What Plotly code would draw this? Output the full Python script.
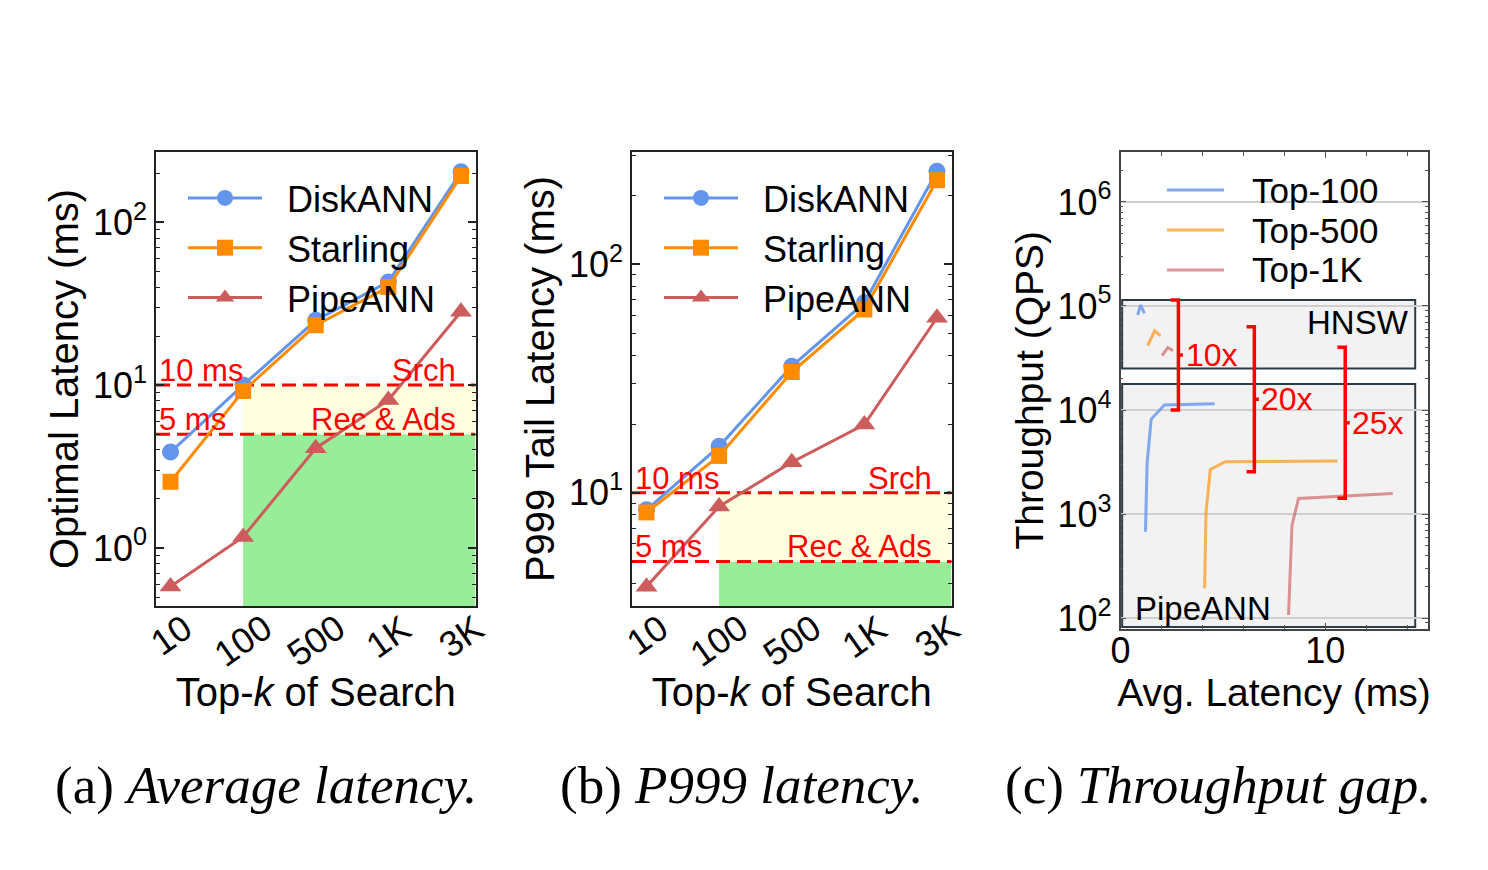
import math
import plotly.graph_objects as go

# ---------------- data ----------------
k_labels = ["10", "100", "500", "1K", "3K"]

avg_diskann = [3.88, 10.0, 25.0, 43.0, 204]
avg_starling = [2.55, 9.2, 23.3, 40.0, 192]
avg_pipeann = [0.58, 1.17, 4.1, 8.1, 28.2]

p999_diskann = [8.42, 15.97, 35.8, 67.9, 256]
p999_starling = [8.2, 14.5, 33.8, 63.5, 234]
p999_pipeann = [3.88, 8.71, 13.6, 19.9, 58.4]

# throughput panel: PipeANN curves
pipe100_lat = [1.22, 1.30, 1.50, 2.15, 4.6]
pipe100_qps = [676, 3090, 8190, 11160, 11500]
pipe500_lat = [4.11, 4.18, 4.39, 5.12, 10.6]
pipe500_qps = [193, 1052, 2690, 3185, 3235]
pipe1k_lat = [8.21, 8.38, 8.70, 13.3]
pipe1k_qps = [107, 783, 1413, 1580]
# HNSW curves
hnsw100_lat = [0.84, 0.98, 1.17]
hnsw100_qps = [81900, 102000, 85000]
hnsw500_lat = [1.33, 1.67, 1.95]
hnsw500_qps = [41500, 57800, 51500]
hnsw1k_lat = [2.03, 2.31, 2.57]
hnsw1k_qps = [33300, 39700, 37200]

gap_labels = ["10x", "20x", "25x"]
gap_x = [2.83, 6.54, 10.98]
gap_top = [114000, 63000, 40100]
gap_bottom = [10000, 2550, 1416]

slo_values = [10, 5]
slo_left = ["10 ms", "5 ms"]
slo_right = ["Srch", "Rec & Ads"]

# ---------------- style ----------------
W, H = 1488, 870
FONT = "Liberation Sans, Arial, sans-serif"
C_DISK = "#6495ED"
C_STAR = "#FF8C00"
C_PIPE = "#CD5C5C"
C_T100 = "rgba(100,149,237,0.8)"
C_T500 = "rgba(255,140,0,0.65)"
C_T1K = "rgba(205,92,92,0.65)"
RED = "#FF0000"
FRAME = "#222222"
NB = "\u00a0\u00a0"

def px_x(p):
    return p / W

def px_y(p):
    return 1 - p / H

fig = go.Figure()
xpos = list(range(len(k_labels)))

# ---- panel a / b traces ----
for (dk, st, pp, xa, ya, lg) in [
    (avg_diskann, avg_starling, avg_pipeann, "x", "y", "legend"),
    (p999_diskann, p999_starling, p999_pipeann, "x2", "y2", "legend2"),
]:
    fig.add_trace(go.Scatter(x=xpos, y=dk, name=NB + "DiskANN", mode="lines+markers",
                             line=dict(color=C_DISK, width=3),
                             marker=dict(symbol="circle", size=17, color=C_DISK),
                             xaxis=xa, yaxis=ya, legend=lg))
    fig.add_trace(go.Scatter(x=xpos, y=st, name=NB + "Starling", mode="lines+markers",
                             line=dict(color=C_STAR, width=3),
                             marker=dict(symbol="square", size=16, color=C_STAR),
                             xaxis=xa, yaxis=ya, legend=lg))
    fig.add_trace(go.Scatter(x=xpos, y=pp, name=NB + "PipeANN", mode="lines+markers",
                             line=dict(color=C_PIPE, width=3),
                             marker=dict(symbol="triangle-up", size=19, color=C_PIPE),
                             xaxis=xa, yaxis=ya, legend=lg))

# ---- panel c traces ----
series_c = [
    ("Top-100", C_T100, pipe100_lat, pipe100_qps, hnsw100_lat, hnsw100_qps),
    ("Top-500", C_T500, pipe500_lat, pipe500_qps, hnsw500_lat, hnsw500_qps),
    ("Top-1K", C_T1K, pipe1k_lat, pipe1k_qps, hnsw1k_lat, hnsw1k_qps),
]
for name, color, lat, qps, hl, hq in series_c:
    fig.add_trace(go.Scatter(x=lat, y=qps, name=name, mode="lines",
                             line=dict(color=color, width=3), legendgroup=name,
                             showlegend=False, xaxis="x3", yaxis="y3"))
    fig.add_trace(go.Scatter(x=hl, y=hq, name=name, mode="lines",
                             line=dict(color=color, width=3), legendgroup=name,
                             showlegend=False, xaxis="x3", yaxis="y3"))

# legend for panel c (compact spacing like the reference)
for i, (name, color, *_rest) in enumerate(series_c):
    yy = 190 + 40 * i
    fig.add_shape(type="line", xref="paper", yref="paper", x0=px_x(1167), x1=px_x(1224),
                  y0=px_y(yy), y1=px_y(yy), line=dict(color=color, width=3), layer="above")
    fig.add_annotation(xref="paper", yref="paper", x=px_x(1250), y=px_y(yy), text=name,
                       showarrow=False, xanchor="left", yanchor="middle",
                       font=dict(family=FONT, size=35, color="black"))

# brackets
for lab, bx, bt, bb in zip(gap_labels, gap_x, gap_top, gap_bottom):
    mid = math.sqrt(bt * bb)
    hook = 0.38
    fig.add_trace(go.Scatter(x=[bx - hook, bx, bx, bx - hook, None, bx, bx + 0.22],
                             y=[bt, bt, bb, bb, None, mid, mid], mode="lines",
                             line=dict(color=RED, width=3.5), showlegend=False,
                             hoverinfo="skip", xaxis="x3", yaxis="y3"))
    fig.add_annotation(x=bx + 0.25, y=math.log10(mid), xref="x3", yref="y3",
                       text=lab, showarrow=False, xanchor="left", yanchor="middle",
                       font=dict(family=FONT, size=32, color=RED))

# ---------------- axes ----------------
def minor_vals(lo, hi):
    vals = []
    for e in range(lo, hi):
        for m in range(2, 10):
            vals.append(m * 10 ** e)
    return vals

def sup_labels(lo, hi):
    return [10 ** e for e in range(lo, hi + 1)], ["10<sup>%d</sup>" % e for e in range(lo, hi + 1)]

common_axis = dict(showline=True, linecolor=FRAME, linewidth=1.5, mirror="allticks",
                   zeroline=False, showgrid=False, automargin=False,
                   tickfont=dict(family=FONT, size=36, color="black"))

dom_y_ab = [px_y(606), px_y(152)]
dom_y_c = [px_y(628.5), px_y(152)]

tv, tt = sup_labels(-1, 3)
for i, (xa, ya, xdom, yr, title) in enumerate([
    ("xaxis", "yaxis", [px_x(156), px_x(475.5)], [-0.356, 2.431], "Optimal Latency (ms)"),
    ("xaxis2", "yaxis2", [px_x(632), px_x(951.5)], [0.504, 2.4925], "P999 Tail Latency (ms)"),
]):
    anchor_y = "y" if i == 0 else "y2"
    anchor_x = "x" if i == 0 else "x2"
    fig.update_layout(**{
        xa: dict(domain=xdom, anchor=anchor_y, range=[-0.2, 4.2], tickvals=xpos,
                 ticktext=k_labels, showticklabels=False, ticks="",
                 title=dict(text="Top-<i>k</i> of Search", standoff=71,
                            font=dict(family=FONT, size=40, color="black")),
                 **common_axis),
        ya: dict(domain=dom_y_ab, anchor=anchor_x, type="log", range=yr,
                 tickmode="array", tickvals=tv, ticktext=tt, ticks="inside", ticklen=8,
                 tickwidth=1.5, tickcolor=FRAME,
                 minor=dict(tickmode="array", tickvals=minor_vals(-1, 3), ticks="inside",
                            ticklen=4, tickwidth=1, tickcolor=FRAME),
                 title=dict(text=title, standoff=2,
                            font=dict(family=FONT, size=40, color="black")),
                 **common_axis),
    })

tv3, tt3 = sup_labels(2, 6)
fig.update_layout(
    xaxis3=dict(domain=[px_x(1120.5), px_x(1427.5)], anchor="y3", range=[0, 15],
                dtick=10, tick0=0, ticks="inside", ticklen=6, tickwidth=1, tickcolor="#555",
                ticklabelstandoff=-10,
                minor=dict(dtick=2, ticks="inside", ticklen=4, tickcolor="#555"),
                title=dict(text="Avg. Latency (ms)", standoff=4,
                           font=dict(family=FONT, size=39, color="black")),
                **common_axis),
    yaxis3=dict(domain=dom_y_c, anchor="x3", type="log", range=[1.9, 6.48],
                tickmode="array", tickvals=tv3, ticktext=tt3, ticks="inside", ticklen=6,
                tickwidth=1, tickcolor="#555",
                minor=dict(tickmode="array", tickvals=minor_vals(1, 7), ticks="inside",
                           ticklen=3, tickwidth=1, tickcolor="#555"),
                title=dict(text="Throughput (QPS)", standoff=2,
                           font=dict(family=FONT, size=39, color="black")),
                **{k: v for k, v in common_axis.items() if k != "showgrid"},
                showgrid=True, gridcolor="#cfcfcf", gridwidth=1.5),
)
fig.layout.xaxis3.linecolor = "#444"
fig.layout.yaxis3.linecolor = "#444"

# ---------------- shapes: SLO bands ----------------
for xr, yr_ref in [("x", "y"), ("x2", "y2")]:
    fig.add_shape(type="rect", xref=xr, yref=yr_ref, x0=xpos[1], x1=4.2, y0=1e-3, y1=slo_values[1],
                  fillcolor="#98EE98", line=dict(width=0), layer="below")
    fig.add_shape(type="rect", xref=xr, yref=yr_ref, x0=xpos[1], x1=4.2, y0=slo_values[1], y1=slo_values[0],
                  fillcolor="#FFFFE0", line=dict(width=0), layer="below")
    for v, lt, rt in zip(slo_values, slo_left, slo_right):
        fig.add_shape(type="line", xref=xr, yref=yr_ref, x0=-0.2, x1=4.2, y0=v, y1=v,
                      line=dict(color=RED, width=3, dash="14px,7px"), layer="below")
        fig.add_annotation(xref=xr + " domain", yref=yr_ref, x=0.0, y=math.log10(v),
                           text=lt, showarrow=False, xanchor="left", yanchor="bottom",
                           yshift=-5, xshift=1, font=dict(family=FONT, size=31, color=RED))
        fig.add_annotation(xref=xr + " domain", yref=yr_ref, x=0.945, y=math.log10(v),
                           text=rt, showarrow=False, xanchor="right", yanchor="bottom",
                           yshift=-5, font=dict(family=FONT, size=31, color=RED))
    # rotated category tick labels centred under their ticks
    for xi, lab in zip(xpos, k_labels):
        fig.add_annotation(xref=xr, yref="paper", x=xi, y=px_y(604), text=lab,
                           showarrow=False, textangle=-35, xanchor="center", yanchor="top",
                           font=dict(family=FONT, size=36, color="black"))

# ---------------- shapes: HNSW / PipeANN regions ----------------
box_style = dict(fillcolor="#F2F2F2", line=dict(color="#2B3B48", width=2), layer="below")
fig.add_shape(type="rect", xref="x3", yref="y3", x0=0.08, x1=14.4, y0=25000, y1=114000, **box_style)
fig.add_shape(type="rect", xref="x3", yref="y3", x0=0.08, x1=14.4, y0=82, y1=17800, **box_style)
fig.add_annotation(xref="x3", yref="y3", x=14.2, y=math.log10(114000), text="HNSW",
                   showarrow=False, xanchor="right", yanchor="top", yshift=-2,
                   font=dict(family=FONT, size=33, color="black"))
fig.add_annotation(xref="x3", yref="y3", x=0.6, y=math.log10(82), text="PipeANN",
                   showarrow=False, xanchor="left", yanchor="bottom", yshift=-2,
                   font=dict(family=FONT, size=33, color="black"))

# ---------------- captions ----------------
for cx, cap in [(266, "(a) <i>Average latency.</i>"), (742, "(b) <i>P999 latency.</i>"),
                (1218, "(c) <i>Throughput gap.</i>")]:
    fig.add_annotation(xref="paper", yref="paper", x=px_x(cx), y=px_y(785), text=cap,
                       showarrow=False, xanchor="center", yanchor="middle",
                       font=dict(family="Liberation Serif, Times New Roman, serif", size=53, color="black"))

legend_common = dict(bgcolor="rgba(0,0,0,0)", borderwidth=0, xanchor="left", yanchor="top",
                     font=dict(family=FONT, size=36, color="black"), itemwidth=74,
                     tracegroupgap=0)
fig.update_layout(
    width=W, height=H, margin=dict(l=0, r=0, t=0, b=0, autoexpand=False),
    paper_bgcolor="white", plot_bgcolor="white", showlegend=True,
    legend=dict(x=px_x(183), y=px_y(168), **legend_common),
    legend2=dict(x=px_x(659), y=px_y(168), **legend_common),
)

fig.write_html("out.html")
